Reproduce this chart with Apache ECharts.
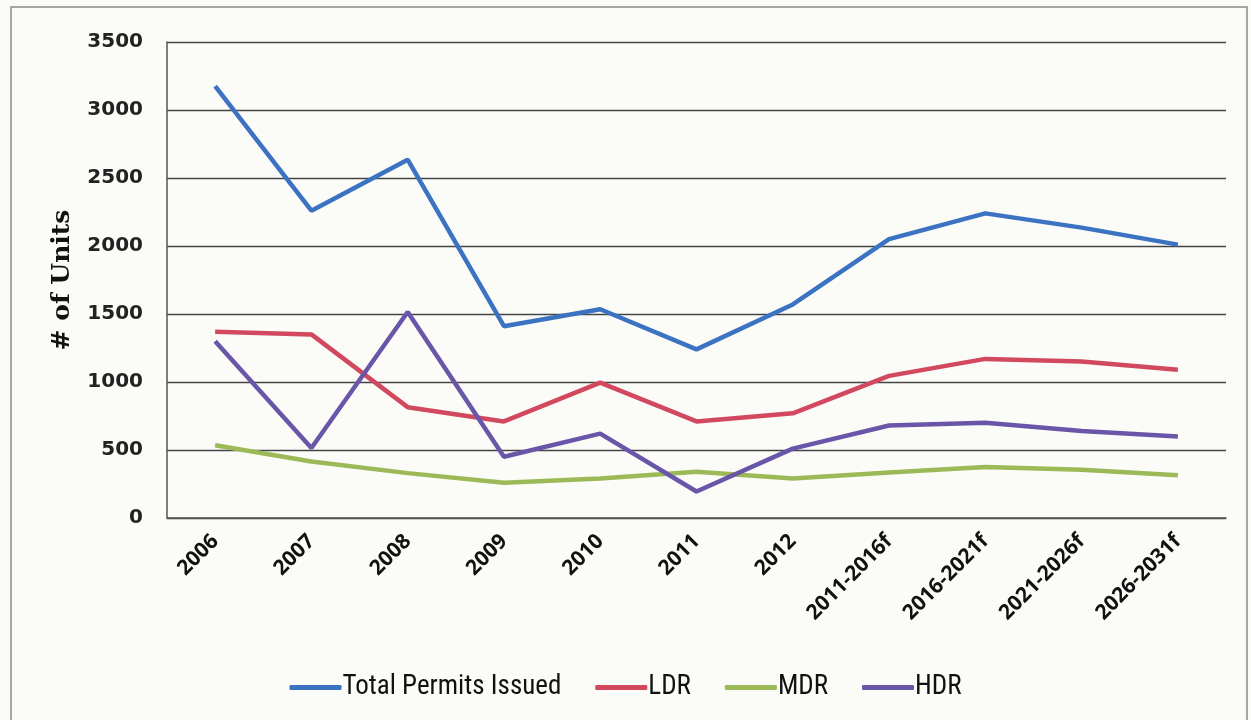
<!DOCTYPE html>
<html><head><meta charset="utf-8">
<script src="https://cdn.jsdelivr.net/npm/echarts@6/dist/echarts.min.js"></script>
<style>html,body{margin:0;padding:0;background:#fbfbf8;}#c{width:1251px;height:720px;}</style>
</head><body><div id="c"></div>
<script>
const categories = ['2006','2007','2008','2009','2010','2011','2012','2011-2016f','2016-2021f','2021-2026f','2026-2031f'];
const totalPermits = [3175, 2260, 2635, 1410, 1535, 1240, 1570, 2050, 2240, 2135, 2010];
const ldr = [1370, 1350, 815, 710, 995, 710, 770, 1045, 1170, 1150, 1090];
const mdr = [535, 415, 330, 260, 290, 340, 290, 335, 375, 355, 315];
const hdr = [1300, 515, 1515, 450, 620, 195, 510, 680, 700, 640, 600];
const yTicks = [0, 500, 1000, 1500, 2000, 2500, 3000, 3500];

function draw() {
  const chart = echarts.init(document.getElementById('c'));
  const mk = (name, data, color) => ({
    name, type: 'line', data, symbol: 'none', smooth: false,
    lineStyle: { width: 4.5, color }, itemStyle: { color }
  });
  chart.setOption({
    backgroundColor: '#fbfbf8',
    graphic: [{ type: 'rect', shape: { x: 11, y: 7, width: 1236, height: 720 }, style: { fill: 'none', stroke: '#8a8a8a', lineWidth: 1.5 } }],
    grid: { left: 167, right: 25, top: 42, bottom: 202 },
    xAxis: {
      type: 'category', data: categories, boundaryGap: true,
      axisLine: { lineStyle: { color: '#555', width: 1.5 } },
      axisTick: { show: false },
      axisLabel: { rotate: 45, fontSize: 21, fontWeight: 'bold', color: '#111', fontFamily: '"Open Sans"', margin: 20 }
    },
    yAxis: {
      type: 'value', min: yTicks[0], max: yTicks[yTicks.length - 1], interval: 500,
      name: '# of Units', nameLocation: 'middle', nameGap: 92, nameRotate: 90,
      nameTextStyle: { fontSize: 25, fontWeight: 'bold', color: '#111', fontFamily: '"DejaVu Serif"' },
      axisLine: { show: true, lineStyle: { color: '#555', width: 1.5 } },
      axisTick: { show: false },
      splitLine: { lineStyle: { color: '#444', width: 1.3 } },
      axisLabel: { fontSize: 20, fontWeight: 'bold', color: '#222', fontFamily: '"DejaVu Sans"', margin: 24, formatter: v => String(v) }
    },
    legend: {
      bottom: 14, left: 'center', itemWidth: 52, itemHeight: 5, itemGap: 34,
      icon: 'roundRect',
      textStyle: { fontSize: 27, color: '#111', fontFamily: '"Liberation Sans Narrow", "Roboto Condensed", "Noto Sans"', padding: [0, 0, 0, -4] },
      data: ['Total Permits Issued', 'LDR', 'MDR', 'HDR']
    },
    series: [
      mk('Total Permits Issued', totalPermits, '#3b73c2'),
      mk('LDR', ldr, '#d1485f'),
      mk('MDR', mdr, '#9cb957'),
      mk('HDR', hdr, '#6a56a8')
    ],
    animation: false
  });
}
const fontLoads = [
  'bold 21px "Open Sans"', 'bold 25px "DejaVu Serif"', 'bold 20px "DejaVu Sans"',
  '27px "Liberation Sans Narrow"', '27px "Roboto Condensed"'
].map(f => document.fonts.load(f).catch(() => null));
Promise.race([Promise.all(fontLoads), new Promise(r => setTimeout(r, 1500))]).then(draw);
</script></body></html>
